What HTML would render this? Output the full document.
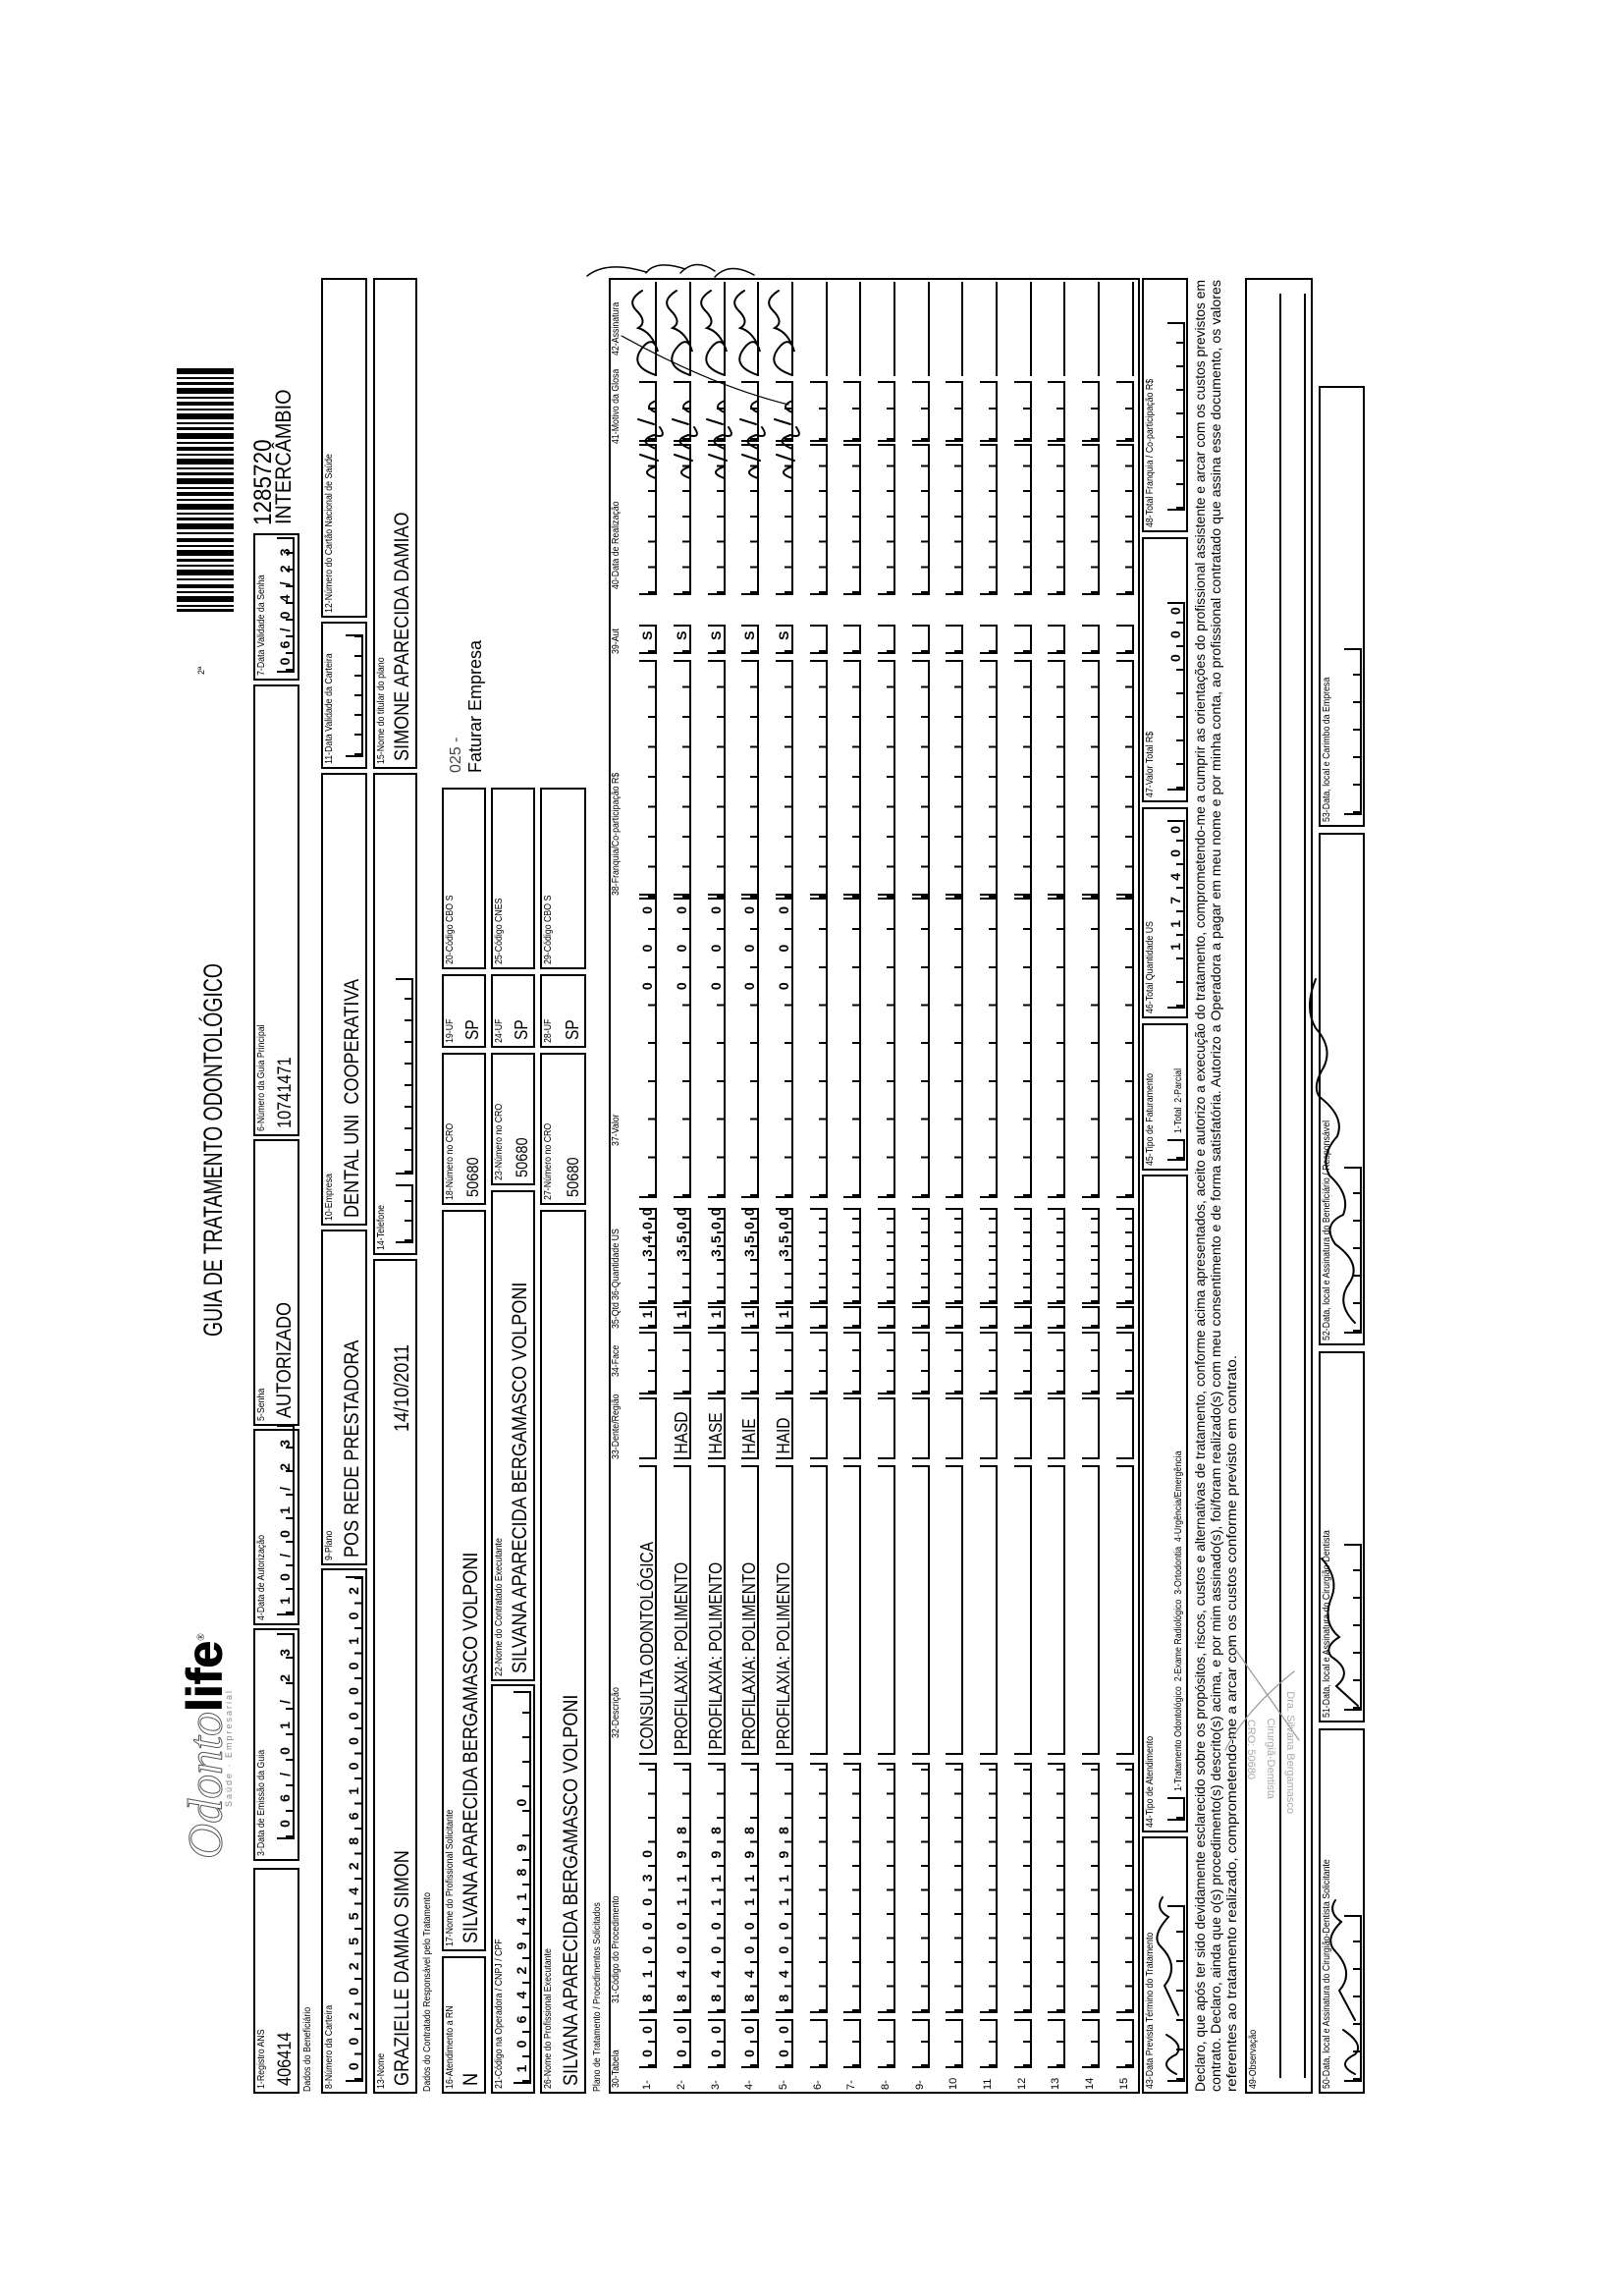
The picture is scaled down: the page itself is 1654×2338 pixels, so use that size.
<!DOCTYPE html>
<html><head><meta charset="utf-8">
<style>
html,body{margin:0;padding:0;background:#fff;}
body{width:1654px;height:2338px;position:relative;overflow:hidden;font-family:"Liberation Sans",Arial,sans-serif;color:#000;}
#f{position:absolute;left:258px;top:283px;width:1849px;height:1132px;transform-origin:0 0;transform:translate(0,1849px) rotate(-90deg);}
.b{position:absolute;border:2px solid #000;box-sizing:border-box;}
.l{position:absolute;left:3px;top:1px;font-size:10px;white-space:nowrap;transform:scaleX(.88);transform-origin:left top;}
.v{position:absolute;left:6px;bottom:1px;font-size:21px;white-space:nowrap;transform:scaleX(.86);transform-origin:left bottom;}
.s{position:absolute;font-size:10px;white-space:nowrap;transform:scaleX(.88);transform-origin:left top;}
.tk{position:absolute;height:18px;border:2px solid #000;border-top:0;box-sizing:border-box;
 background-image:repeating-linear-gradient(90deg,#000 0 2px,transparent 2px var(--c));
 background-size:100% 7px;background-position:left bottom;background-repeat:no-repeat;
 font-weight:bold;font-size:14px;line-height:17px;white-space:pre;overflow:visible;
 letter-spacing:calc(var(--c) - 7.8px);padding-left:calc((var(--c) - 7.8px)/2 + 1px);}
.ln{position:absolute;height:18px;border:2px solid #000;border-top:0;box-sizing:border-box;font-size:18px;line-height:16px;white-space:nowrap;}
.ln span{display:inline-block;transform:scaleX(.86);transform-origin:left;padding-left:4px;}
.r{position:absolute;left:0;width:1849px;height:18px;}
.n{position:absolute;left:4px;top:2px;font-size:11px;}
.hd{position:absolute;top:364px;font-size:10px;white-space:nowrap;transform:scaleX(.88);transform-origin:left top;}
</style></head><body>
<div id="f">
<div style="position:absolute;left:239px;top:-80px;font-size:50px;line-height:56px;white-space:nowrap;font-family:'Liberation Serif',serif;"><span style="color:#fff;-webkit-text-stroke:1px #555;font-style:italic;">Odonto</span><span style="font-family:'Liberation Sans',sans-serif;font-weight:bold;-webkit-text-stroke:1px #000;">life</span><sup style="font-size:10px">®</sup></div>
<div style="position:absolute;left:292px;top:-30px;font-size:9px;color:#888;letter-spacing:2px;">Saúde · Empresarial</div>
<svg style="position:absolute;left:0;top:-80px;overflow:visible" width="1849" height="80">
<text x="771" y="48" font-family="Liberation Sans, sans-serif" font-size="27" textLength="380" lengthAdjust="spacingAndGlyphs">GUIA DE TRATAMENTO ODONTOLÓGICO</text>
<text x="1445" y="30" font-family="Liberation Sans, sans-serif" font-size="9">2ª</text>
<g fill="#000">
<rect x="1509" y="2" width="3" height="58"/><rect x="1514" y="2" width="2" height="58"/><rect x="1519" y="2" width="6" height="58"/><rect x="1528" y="2" width="2" height="58"/><rect x="1533" y="2" width="4" height="58"/><rect x="1541" y="2" width="2" height="58"/><rect x="1546" y="2" width="6" height="58"/><rect x="1555" y="2" width="2" height="58"/><rect x="1560" y="2" width="3" height="58"/><rect x="1566" y="2" width="6" height="58"/><rect x="1575" y="2" width="2" height="58"/><rect x="1580" y="2" width="4" height="58"/><rect x="1588" y="2" width="2" height="58"/><rect x="1593" y="2" width="6" height="58"/><rect x="1602" y="2" width="3" height="58"/><rect x="1608" y="2" width="2" height="58"/><rect x="1613" y="2" width="6" height="58"/><rect x="1622" y="2" width="2" height="58"/><rect x="1627" y="2" width="4" height="58"/><rect x="1634" y="2" width="2" height="58"/><rect x="1639" y="2" width="6" height="58"/><rect x="1648" y="2" width="3" height="58"/><rect x="1654" y="2" width="2" height="58"/><rect x="1659" y="2" width="6" height="58"/><rect x="1668" y="2" width="2" height="58"/><rect x="1673" y="2" width="4" height="58"/><rect x="1680" y="2" width="2" height="58"/><rect x="1685" y="2" width="6" height="58"/><rect x="1694" y="2" width="3" height="58"/><rect x="1700" y="2" width="2" height="58"/><rect x="1705" y="2" width="6" height="58"/><rect x="1714" y="2" width="2" height="58"/><rect x="1719" y="2" width="4" height="58"/><rect x="1726" y="2" width="2" height="58"/><rect x="1731" y="2" width="6" height="58"/><rect x="1740" y="2" width="3" height="58"/><rect x="1746" y="2" width="2" height="58"/><rect x="1751" y="2" width="6" height="58"/>
</g>
</svg>
<div style="position:absolute;left:1597px;top:-2px;font-size:25px;line-height:24px;transform:scaleX(.9);transform-origin:left">1285720</div>
<div style="position:absolute;left:1598px;top:20px;font-size:22px;line-height:22px;transform:scaleX(.9);transform-origin:left">INTERCÂMBIO</div>

<div class="b" style="left:0;top:0;width:230px;height:47px"><div class="l">1-Registro ANS</div><div class="v" style="font-size:19px">406414</div></div>
<div class="b" style="left:237px;top:0;width:237px;height:47px"><div class="l">3-Data de Emissão da Guia</div><div class="tk" style="--c:26px;left:20px;top:22px;width:210px">06/01/23</div></div>
<div class="b" style="left:477px;top:0;width:200px;height:47px"><div class="l">4-Data de Autorização</div><div class="tk" style="--c:24px;left:8px;top:22px;width:194px">10/01/23</div></div>
<div class="b" style="left:680px;top:0;width:292px;height:47px"><div class="l">5-Senha</div><div class="v">AUTORIZADO</div></div>
<div class="b" style="left:975px;top:0;width:460px;height:47px"><div class="l">6-Número da Guia Principal</div><div class="v" style="font-size:19px">10741471</div></div>
<div class="b" style="left:1439px;top:0;width:150px;height:47px"><div class="l">7-Data Validade da Senha</div><div class="tk" style="--c:17px;left:6px;top:22px;width:138px">06/04/23</div></div>

<div class="s" style="left:2px;top:50px">Dados do Beneficiário</div>
<div class="b" style="left:0;top:69px;width:535px;height:47px"><div class="l">8-Número da Carteira</div><div class="tk" style="--c:25.5px;left:10px;top:23px;width:515px">00202554286100000102</div></div>
<div class="b" style="left:538px;top:69px;width:342px;height:47px"><div class="l">9-Plano</div><div class="v">POS REDE PRESTADORA</div></div>
<div class="b" style="left:884px;top:69px;width:461px;height:47px"><div class="l">10-Empresa</div><div class="v">DENTAL UNI&nbsp; COOPERATIVA</div></div>
<div class="b" style="left:1349px;top:69px;width:150px;height:47px"><div class="l">11-Data Validade da Carteira</div><div class="tk" style="--c:20px;left:10px;top:23px;width:125px"></div></div>
<div class="b" style="left:1503px;top:69px;width:346px;height:47px"><div class="l">12-Número do Cartão Nacional de Saúde</div></div>
<div class="b" style="left:0;top:122px;width:850px;height:45px"><div class="l">13-Nome</div><div class="v">GRAZIELLE DAMIAO SIMON</div><div class="v" style="left:auto;right:70px">14/10/2011</div></div>
<div class="b" style="left:854px;top:122px;width:491px;height:45px"><div class="l">14-Telefone</div><div class="tk" style="--c:20px;left:10px;top:21px;width:60px"></div><div class="tk" style="--c:22px;left:80px;top:21px;width:200px"></div></div>
<div class="b" style="left:1349px;top:122px;width:500px;height:45px"><div class="l">15-Nome do titular do plano</div><div class="v">SIMONE APARECIDA DAMIAO</div></div>

<div class="s" style="left:2px;top:172px">Dados do Contratado Responsável pelo Tratamento</div>
<div class="b" style="left:0;top:192px;width:140px;height:45px"><div class="l">16-Atendimento a RN</div><div class="v">N</div></div>
<div class="b" style="left:145px;top:192px;width:755px;height:45px"><div class="l">17-Nome do Profissional Solicitante</div><div class="v">SILVANA APARECIDA BERGAMASCO VOLPONI</div></div>
<div class="b" style="left:905px;top:192px;width:155px;height:45px"><div class="l">18-Número no CRO</div><div class="v" style="font-size:17px">50680</div></div>
<div class="b" style="left:1065px;top:192px;width:75px;height:45px"><div class="l">19-UF</div><div class="v" style="font-size:18px">SP</div></div>
<div class="b" style="left:1145px;top:192px;width:185px;height:45px"><div class="l">20-Código CBO S</div></div>
<div style="position:absolute;left:1345px;top:198px;font-size:16px;color:#444">025 -</div>
<div style="position:absolute;left:1345px;top:216px;font-size:18px">Faturar Empresa</div>
<div class="b" style="left:0;top:242px;width:417px;height:45px"><div class="l">21-Código na Operadora / CNPJ / CPF</div><div class="tk" style="--c:25px;left:8px;top:21px;width:400px">1064294189 0</div></div>
<div class="b" style="left:420px;top:242px;width:500px;height:45px"><div class="l">22-Nome do Contratado Executante</div><div class="v">SILVANA APARECIDA BERGAMASCO VOLPONI</div></div>
<div class="b" style="left:925px;top:242px;width:135px;height:45px"><div class="l">23-Número no CRO</div><div class="v" style="font-size:17px">50680</div></div>
<div class="b" style="left:1065px;top:242px;width:75px;height:45px"><div class="l">24-UF</div><div class="v" style="font-size:18px">SP</div></div>
<div class="b" style="left:1145px;top:242px;width:185px;height:45px"><div class="l">25-Código CNES</div></div>
<div class="b" style="left:0;top:292px;width:900px;height:47px"><div class="l">26-Nome do Profissional Executante</div><div class="v">SILVANA APARECIDA BERGAMASCO VOLPONI</div></div>
<div class="b" style="left:905px;top:292px;width:155px;height:47px"><div class="l">27-Número no CRO</div><div class="v" style="font-size:17px">50680</div></div>
<div class="b" style="left:1065px;top:292px;width:75px;height:47px"><div class="l">28-UF</div><div class="v" style="font-size:18px">SP</div></div>
<div class="b" style="left:1145px;top:292px;width:185px;height:47px"><div class="l">29-Código CBO S</div></div>

<div class="s" style="left:2px;top:345px">Plano de Tratamento / Procedimentos Solicitados</div>
<div class="b" style="left:0;top:362px;width:1849px;height:541px"></div>
<div class="hd" style="left:6px">30-Tabela</div>
<div class="hd" style="left:92px">31-Código do Procedimento</div>
<div class="hd" style="left:362px">32-Descrição</div>
<div class="hd" style="left:646px">33-Dente/Região</div>
<div class="hd" style="left:730px">34-Face</div>
<div class="hd" style="left:779px">35-Qtd</div>
<div class="hd" style="left:808px">36-Quantidade US</div>
<div class="hd" style="left:965px">37-Valor</div>
<div class="hd" style="left:1220px">38-Franquia/Co-participação R$</div>
<div class="hd" style="left:1466px">39-Aut</div>
<div class="hd" style="left:1532px">40-Data de Realização</div>
<div class="hd" style="left:1680px">41-Motivo da Glosa</div>
<div class="hd" style="left:1770px">42-Assinatura</div>

<div class="r" style="top:393px"><div class="n">1-</div><div class="tk" style="--c:24px;left:26px;width:50px">00</div><div class="tk" style="--c:24.5px;left:82px;width:255px">8100030</div><div class="ln" style="left:345px;width:295px"><span>CONSULTA ODONTOLÓGICA</span></div><div class="ln" style="left:646px;width:63px"></div><div class="tk" style="--c:21px;left:712px;width:64px"></div><div class="tk" style="--c:23px;left:779px;width:23px">1</div><div class="tk" style="--c:14px;left:804px;width:98px">&#8199;&#8199;&#8199;3400</div><div class="tk" style="--c:38.7px;left:912px;width:310px">&#8199;&#8199;&#8199;&#8199;&#8199;000</div><div class="tk" style="--c:30.5px;left:1216px;width:244px"></div><div class="tk" style="--c:30px;left:1466px;width:30px">S</div><div class="tk" style="--c:25.7px;left:1526px;width:154px"></div><div class="tk" style="--c:31px;left:1682px;width:62px"></div><div class="ln" style="left:1749px;width:96px;border-left:0;border-right:0"></div></div>
<div class="r" style="top:428px"><div class="n">2-</div><div class="tk" style="--c:24px;left:26px;width:50px">00</div><div class="tk" style="--c:24.5px;left:82px;width:255px">84001198</div><div class="ln" style="left:345px;width:295px"><span>PROFILAXIA: POLIMENTO</span></div><div class="ln" style="left:646px;width:63px"><span>HASD</span></div><div class="tk" style="--c:21px;left:712px;width:64px"></div><div class="tk" style="--c:23px;left:779px;width:23px">1</div><div class="tk" style="--c:14px;left:804px;width:98px">&#8199;&#8199;&#8199;3500</div><div class="tk" style="--c:38.7px;left:912px;width:310px">&#8199;&#8199;&#8199;&#8199;&#8199;000</div><div class="tk" style="--c:30.5px;left:1216px;width:244px"></div><div class="tk" style="--c:30px;left:1466px;width:30px">S</div><div class="tk" style="--c:25.7px;left:1526px;width:154px"></div><div class="tk" style="--c:31px;left:1682px;width:62px"></div><div class="ln" style="left:1749px;width:96px;border-left:0;border-right:0"></div></div>
<div class="r" style="top:463px"><div class="n">3-</div><div class="tk" style="--c:24px;left:26px;width:50px">00</div><div class="tk" style="--c:24.5px;left:82px;width:255px">84001198</div><div class="ln" style="left:345px;width:295px"><span>PROFILAXIA: POLIMENTO</span></div><div class="ln" style="left:646px;width:63px"><span>HASE</span></div><div class="tk" style="--c:21px;left:712px;width:64px"></div><div class="tk" style="--c:23px;left:779px;width:23px">1</div><div class="tk" style="--c:14px;left:804px;width:98px">&#8199;&#8199;&#8199;3500</div><div class="tk" style="--c:38.7px;left:912px;width:310px">&#8199;&#8199;&#8199;&#8199;&#8199;000</div><div class="tk" style="--c:30.5px;left:1216px;width:244px"></div><div class="tk" style="--c:30px;left:1466px;width:30px">S</div><div class="tk" style="--c:25.7px;left:1526px;width:154px"></div><div class="tk" style="--c:31px;left:1682px;width:62px"></div><div class="ln" style="left:1749px;width:96px;border-left:0;border-right:0"></div></div>
<div class="r" style="top:497px"><div class="n">4-</div><div class="tk" style="--c:24px;left:26px;width:50px">00</div><div class="tk" style="--c:24.5px;left:82px;width:255px">84001198</div><div class="ln" style="left:345px;width:295px"><span>PROFILAXIA: POLIMENTO</span></div><div class="ln" style="left:646px;width:63px"><span>HAIE</span></div><div class="tk" style="--c:21px;left:712px;width:64px"></div><div class="tk" style="--c:23px;left:779px;width:23px">1</div><div class="tk" style="--c:14px;left:804px;width:98px">&#8199;&#8199;&#8199;3500</div><div class="tk" style="--c:38.7px;left:912px;width:310px">&#8199;&#8199;&#8199;&#8199;&#8199;000</div><div class="tk" style="--c:30.5px;left:1216px;width:244px"></div><div class="tk" style="--c:30px;left:1466px;width:30px">S</div><div class="tk" style="--c:25.7px;left:1526px;width:154px"></div><div class="tk" style="--c:31px;left:1682px;width:62px"></div><div class="ln" style="left:1749px;width:96px;border-left:0;border-right:0"></div></div>
<div class="r" style="top:532px"><div class="n">5-</div><div class="tk" style="--c:24px;left:26px;width:50px">00</div><div class="tk" style="--c:24.5px;left:82px;width:255px">84001198</div><div class="ln" style="left:345px;width:295px"><span>PROFILAXIA: POLIMENTO</span></div><div class="ln" style="left:646px;width:63px"><span>HAID</span></div><div class="tk" style="--c:21px;left:712px;width:64px"></div><div class="tk" style="--c:23px;left:779px;width:23px">1</div><div class="tk" style="--c:14px;left:804px;width:98px">&#8199;&#8199;&#8199;3500</div><div class="tk" style="--c:38.7px;left:912px;width:310px">&#8199;&#8199;&#8199;&#8199;&#8199;000</div><div class="tk" style="--c:30.5px;left:1216px;width:244px"></div><div class="tk" style="--c:30px;left:1466px;width:30px">S</div><div class="tk" style="--c:25.7px;left:1526px;width:154px"></div><div class="tk" style="--c:31px;left:1682px;width:62px"></div><div class="ln" style="left:1749px;width:96px;border-left:0;border-right:0"></div></div>

<div class="r" style="top:567px"><div class="n">6-</div><div class="tk" style="--c:24px;left:26px;width:50px"></div><div class="tk" style="--c:24.5px;left:82px;width:255px"></div><div class="ln" style="left:345px;width:295px"></div><div class="ln" style="left:646px;width:63px"></div><div class="tk" style="--c:21px;left:712px;width:64px"></div><div class="tk" style="--c:23px;left:779px;width:23px"></div><div class="tk" style="--c:14px;left:804px;width:98px"></div><div class="tk" style="--c:38.7px;left:912px;width:310px"></div><div class="tk" style="--c:30.5px;left:1216px;width:244px"></div><div class="tk" style="--c:30px;left:1466px;width:30px"></div><div class="tk" style="--c:25.7px;left:1526px;width:154px"></div><div class="tk" style="--c:31px;left:1682px;width:62px"></div><div class="ln" style="left:1749px;width:96px;border-left:0;border-right:0"></div></div>
<div class="r" style="top:601px"><div class="n">7-</div><div class="tk" style="--c:24px;left:26px;width:50px"></div><div class="tk" style="--c:24.5px;left:82px;width:255px"></div><div class="ln" style="left:345px;width:295px"></div><div class="ln" style="left:646px;width:63px"></div><div class="tk" style="--c:21px;left:712px;width:64px"></div><div class="tk" style="--c:23px;left:779px;width:23px"></div><div class="tk" style="--c:14px;left:804px;width:98px"></div><div class="tk" style="--c:38.7px;left:912px;width:310px"></div><div class="tk" style="--c:30.5px;left:1216px;width:244px"></div><div class="tk" style="--c:30px;left:1466px;width:30px"></div><div class="tk" style="--c:25.7px;left:1526px;width:154px"></div><div class="tk" style="--c:31px;left:1682px;width:62px"></div><div class="ln" style="left:1749px;width:96px;border-left:0;border-right:0"></div></div>
<div class="r" style="top:636px"><div class="n">8-</div><div class="tk" style="--c:24px;left:26px;width:50px"></div><div class="tk" style="--c:24.5px;left:82px;width:255px"></div><div class="ln" style="left:345px;width:295px"></div><div class="ln" style="left:646px;width:63px"></div><div class="tk" style="--c:21px;left:712px;width:64px"></div><div class="tk" style="--c:23px;left:779px;width:23px"></div><div class="tk" style="--c:14px;left:804px;width:98px"></div><div class="tk" style="--c:38.7px;left:912px;width:310px"></div><div class="tk" style="--c:30.5px;left:1216px;width:244px"></div><div class="tk" style="--c:30px;left:1466px;width:30px"></div><div class="tk" style="--c:25.7px;left:1526px;width:154px"></div><div class="tk" style="--c:31px;left:1682px;width:62px"></div><div class="ln" style="left:1749px;width:96px;border-left:0;border-right:0"></div></div>
<div class="r" style="top:671px"><div class="n">9-</div><div class="tk" style="--c:24px;left:26px;width:50px"></div><div class="tk" style="--c:24.5px;left:82px;width:255px"></div><div class="ln" style="left:345px;width:295px"></div><div class="ln" style="left:646px;width:63px"></div><div class="tk" style="--c:21px;left:712px;width:64px"></div><div class="tk" style="--c:23px;left:779px;width:23px"></div><div class="tk" style="--c:14px;left:804px;width:98px"></div><div class="tk" style="--c:38.7px;left:912px;width:310px"></div><div class="tk" style="--c:30.5px;left:1216px;width:244px"></div><div class="tk" style="--c:30px;left:1466px;width:30px"></div><div class="tk" style="--c:25.7px;left:1526px;width:154px"></div><div class="tk" style="--c:31px;left:1682px;width:62px"></div><div class="ln" style="left:1749px;width:96px;border-left:0;border-right:0"></div></div>
<div class="r" style="top:705px"><div class="n">10</div><div class="tk" style="--c:24px;left:26px;width:50px"></div><div class="tk" style="--c:24.5px;left:82px;width:255px"></div><div class="ln" style="left:345px;width:295px"></div><div class="ln" style="left:646px;width:63px"></div><div class="tk" style="--c:21px;left:712px;width:64px"></div><div class="tk" style="--c:23px;left:779px;width:23px"></div><div class="tk" style="--c:14px;left:804px;width:98px"></div><div class="tk" style="--c:38.7px;left:912px;width:310px"></div><div class="tk" style="--c:30.5px;left:1216px;width:244px"></div><div class="tk" style="--c:30px;left:1466px;width:30px"></div><div class="tk" style="--c:25.7px;left:1526px;width:154px"></div><div class="tk" style="--c:31px;left:1682px;width:62px"></div><div class="ln" style="left:1749px;width:96px;border-left:0;border-right:0"></div></div>
<div class="r" style="top:740px"><div class="n">11</div><div class="tk" style="--c:24px;left:26px;width:50px"></div><div class="tk" style="--c:24.5px;left:82px;width:255px"></div><div class="ln" style="left:345px;width:295px"></div><div class="ln" style="left:646px;width:63px"></div><div class="tk" style="--c:21px;left:712px;width:64px"></div><div class="tk" style="--c:23px;left:779px;width:23px"></div><div class="tk" style="--c:14px;left:804px;width:98px"></div><div class="tk" style="--c:38.7px;left:912px;width:310px"></div><div class="tk" style="--c:30.5px;left:1216px;width:244px"></div><div class="tk" style="--c:30px;left:1466px;width:30px"></div><div class="tk" style="--c:25.7px;left:1526px;width:154px"></div><div class="tk" style="--c:31px;left:1682px;width:62px"></div><div class="ln" style="left:1749px;width:96px;border-left:0;border-right:0"></div></div>
<div class="r" style="top:775px"><div class="n">12</div><div class="tk" style="--c:24px;left:26px;width:50px"></div><div class="tk" style="--c:24.5px;left:82px;width:255px"></div><div class="ln" style="left:345px;width:295px"></div><div class="ln" style="left:646px;width:63px"></div><div class="tk" style="--c:21px;left:712px;width:64px"></div><div class="tk" style="--c:23px;left:779px;width:23px"></div><div class="tk" style="--c:14px;left:804px;width:98px"></div><div class="tk" style="--c:38.7px;left:912px;width:310px"></div><div class="tk" style="--c:30.5px;left:1216px;width:244px"></div><div class="tk" style="--c:30px;left:1466px;width:30px"></div><div class="tk" style="--c:25.7px;left:1526px;width:154px"></div><div class="tk" style="--c:31px;left:1682px;width:62px"></div><div class="ln" style="left:1749px;width:96px;border-left:0;border-right:0"></div></div>
<div class="r" style="top:809px"><div class="n">13</div><div class="tk" style="--c:24px;left:26px;width:50px"></div><div class="tk" style="--c:24.5px;left:82px;width:255px"></div><div class="ln" style="left:345px;width:295px"></div><div class="ln" style="left:646px;width:63px"></div><div class="tk" style="--c:21px;left:712px;width:64px"></div><div class="tk" style="--c:23px;left:779px;width:23px"></div><div class="tk" style="--c:14px;left:804px;width:98px"></div><div class="tk" style="--c:38.7px;left:912px;width:310px"></div><div class="tk" style="--c:30.5px;left:1216px;width:244px"></div><div class="tk" style="--c:30px;left:1466px;width:30px"></div><div class="tk" style="--c:25.7px;left:1526px;width:154px"></div><div class="tk" style="--c:31px;left:1682px;width:62px"></div><div class="ln" style="left:1749px;width:96px;border-left:0;border-right:0"></div></div>
<div class="r" style="top:844px"><div class="n">14</div><div class="tk" style="--c:24px;left:26px;width:50px"></div><div class="tk" style="--c:24.5px;left:82px;width:255px"></div><div class="ln" style="left:345px;width:295px"></div><div class="ln" style="left:646px;width:63px"></div><div class="tk" style="--c:21px;left:712px;width:64px"></div><div class="tk" style="--c:23px;left:779px;width:23px"></div><div class="tk" style="--c:14px;left:804px;width:98px"></div><div class="tk" style="--c:38.7px;left:912px;width:310px"></div><div class="tk" style="--c:30.5px;left:1216px;width:244px"></div><div class="tk" style="--c:30px;left:1466px;width:30px"></div><div class="tk" style="--c:25.7px;left:1526px;width:154px"></div><div class="tk" style="--c:31px;left:1682px;width:62px"></div><div class="ln" style="left:1749px;width:96px;border-left:0;border-right:0"></div></div>
<div class="r" style="top:879px"><div class="n">15</div><div class="tk" style="--c:24px;left:26px;width:50px"></div><div class="tk" style="--c:24.5px;left:82px;width:255px"></div><div class="ln" style="left:345px;width:295px"></div><div class="ln" style="left:646px;width:63px"></div><div class="tk" style="--c:21px;left:712px;width:64px"></div><div class="tk" style="--c:23px;left:779px;width:23px"></div><div class="tk" style="--c:14px;left:804px;width:98px"></div><div class="tk" style="--c:38.7px;left:912px;width:310px"></div><div class="tk" style="--c:30.5px;left:1216px;width:244px"></div><div class="tk" style="--c:30px;left:1466px;width:30px"></div><div class="tk" style="--c:25.7px;left:1526px;width:154px"></div><div class="tk" style="--c:31px;left:1682px;width:62px"></div><div class="ln" style="left:1749px;width:96px;border-left:0;border-right:0"></div></div>

<div class="b" style="left:0;top:905px;width:262px;height:47px"><div class="l">43-Data Prevista Término do Tratamento</div><div class="tk" style="--c:30px;left:10px;top:24px;width:180px"></div></div>
<div class="b" style="left:266px;top:905px;width:670px;height:47px"><div class="l">44-Tipo de Atendimento</div><div class="tk" style="--c:24px;left:10px;top:24px;width:24px"></div><div class="s" style="left:40px;top:30px">1-Tratamento Odontológico&nbsp; 2-Exame Radiológico&nbsp; 3-Ortodontia&nbsp; 4-Urgência/Emergência</div></div>
<div class="b" style="left:940px;top:905px;width:150px;height:47px"><div class="l">45-Tipo de Faturamento</div><div class="tk" style="--c:22px;left:8px;top:24px;width:22px"></div><div class="s" style="left:36px;top:30px">1-Total&nbsp; 2-Parcial</div></div>
<div class="b" style="left:1095px;top:905px;width:215px;height:47px"><div class="l">46-Total Quantidade US</div><div class="tk" style="--c:24px;left:8px;top:24px;width:192px">&#8199;&#8199;117400</div></div>
<div class="b" style="left:1315px;top:905px;width:270px;height:47px"><div class="l">47-Valor Total R$</div><div class="tk" style="--c:24px;left:10px;top:24px;width:192px">&#8199;&#8199;&#8199;&#8199;&#8199;000</div></div>
<div class="b" style="left:1590px;top:905px;width:259px;height:47px"><div class="l">48-Total Franquia / Co-participação R$</div><div class="tk" style="--c:24px;left:20px;top:24px;width:192px"></div></div>

<svg style="position:absolute;left:0;top:955px;overflow:visible" width="1849" height="52" font-family="Liberation Sans, sans-serif" font-size="14">
<text x="2" y="14" textLength="1845" lengthAdjust="spacingAndGlyphs">Declaro, que após ter sido devidamente esclarecido sobre os propósitos, riscos, custos e alternativas de tratamento, conforme acima apresentados, aceito e autorizo a execução do tratamento, comprometendo-me a cumprir as orientações do profissional assistente e arcar com os custos previstos em</text>
<text x="2" y="30" textLength="1845" lengthAdjust="spacingAndGlyphs">contrato. Declaro, ainda que o(s) procedimento(s) descrito(s) acima, e por mim assinado(s), foi/foram realizado(s) com meu consentimento e de forma satisfatória. Autorizo a Operadora a pagar em meu nome e por minha conta, ao profissional contratado que assina esse documento, os valores</text>
<text x="2" y="46" textLength="750" lengthAdjust="spacingAndGlyphs">referentes ao tratamento realizado, comprometendo-me a arcar com os custos conforme previsto em contrato.</text>
</svg>

<div class="b" style="left:0;top:1010px;width:1849px;height:69px"><div class="l">49-Observação</div>
<div style="position:absolute;left:14px;right:14px;top:33px;border-top:2px solid #000"></div>
<div style="position:absolute;left:14px;right:14px;top:58px;border-top:2px solid #000"></div></div>

<div class="b" style="left:0;top:1085px;width:372px;height:47px"><div class="l">50-Data, local e Assinatura do Cirurgião-Dentista Solicitante</div><div class="tk" style="--c:28px;left:10px;top:24px;width:170px"></div></div>
<div class="b" style="left:378px;top:1085px;width:378px;height:47px"><div class="l">51-Data, local e Assinatura do Cirurgião-Dentista</div><div class="tk" style="--c:28px;left:10px;top:24px;width:170px"></div></div>
<div class="b" style="left:762px;top:1085px;width:522px;height:47px"><div class="l">52-Data, local e Assinatura do Beneficiário / Responsável</div><div class="tk" style="--c:28px;left:10px;top:24px;width:170px"></div></div>
<div class="b" style="left:1290px;top:1085px;width:449px;height:47px"><div class="l">53-Data, local e Carimbo da Empresa</div><div class="tk" style="--c:28px;left:10px;top:24px;width:170px"></div></div>

<svg style="position:absolute;left:0;top:0;overflow:visible" width="1849" height="1132" fill="none" stroke="#000" stroke-width="2" stroke-linecap="round">
<path d="M1645 410 q6 -18 12 0 M1663 412 l6 -18 M1675 410 q8 -20 14 -2 q-4 14 8 6 M1700 408 l5 -16 M1712 410 q6 -14 12 0 M1750 410 q10 -30 30 -12 q10 10 -6 14 q20 -6 24 -20 q6 10 18 -2 q10 -10 20 6"/>
<path d="M1645 445 q6 -18 12 0 M1663 447 l6 -18 M1675 445 q8 -20 14 -2 q-4 14 8 6 M1700 443 l5 -16 M1712 445 q6 -14 12 0 M1750 445 q10 -30 30 -12 q10 10 -6 14 q20 -6 24 -20 q6 10 18 -2 q10 -10 20 6"/>
<path d="M1645 480 q6 -18 12 0 M1663 482 l6 -18 M1675 480 q8 -20 14 -2 q-4 14 8 6 M1700 478 l5 -16 M1712 480 q6 -14 12 0 M1750 480 q10 -30 30 -12 q10 10 -6 14 q20 -6 24 -20 q6 10 18 -2 q10 -10 20 6"/>
<path d="M1645 514 q6 -18 12 0 M1663 516 l6 -18 M1675 514 q8 -20 14 -2 q-4 14 8 6 M1700 512 l5 -16 M1712 514 q6 -14 12 0 M1750 514 q10 -30 30 -12 q10 10 -6 14 q20 -6 24 -20 q6 10 18 -2 q10 -10 20 6"/>
<path d="M1645 549 q6 -18 12 0 M1663 551 l6 -18 M1675 549 q8 -20 14 -2 q-4 14 8 6 M1700 547 l5 -16 M1712 549 q6 -14 12 0 M1750 549 q10 -30 30 -12 q10 10 -6 14 q20 -6 24 -20 q6 10 18 -2 q10 -10 20 6"/>
<path d="M1855 400 q12 -40 -4 -60 M1858 440 q10 -30 -4 -40 M1856 470 q14 -20 -2 -35 M1852 510 q14 -25 -2 -40" stroke-width="1.5"/>
<path d="M1720 545 q20 -80 70 -170" stroke-width="1.2"/>
<path d="M20 940 q10 -20 20 0 q10 8 20 -10 M80 942 l30 -14 q20 16 40 -4 q10 -10 30 8 q8 -14 20 -6"/>
<path d="M20 1122 q10 -20 20 0 q10 10 25 -12 M75 1122 l30 -16 q18 16 40 -4 q12 -12 30 6 q10 -14 22 -6"/>
<path d="M395 1125 l20 -22 q15 18 30 -5 q10 -8 20 8 q15 -18 40 -8 q20 8 40 -10"/>
<path d="M785 1122 q20 -20 40 -6 q20 14 40 -14 q20 -14 30 8 q20 8 40 -14 q20 -10 40 8 q20 8 40 -18 q10 -8 30 4 q20 10 40 -8 q20 -12 50 0"/>
<path d="M350 990 q40 20 80 70 M360 1065 q50 -35 100 -70" stroke="#999" stroke-width="1.2"/>
</svg>
<div style="position:absolute;left:320px;top:1010px;font-size:11px;color:#aaa;transform:rotate(180deg);white-space:nowrap">CRO: 50680</div>
<div style="position:absolute;left:300px;top:1030px;font-size:11px;color:#aaa;transform:rotate(180deg);white-space:nowrap">Cirurgiã-Dentista</div>
<div style="position:absolute;left:285px;top:1050px;font-size:11px;color:#aaa;transform:rotate(180deg);white-space:nowrap">Dra. Silvana Bergamasco</div>
</div>
</body></html>
